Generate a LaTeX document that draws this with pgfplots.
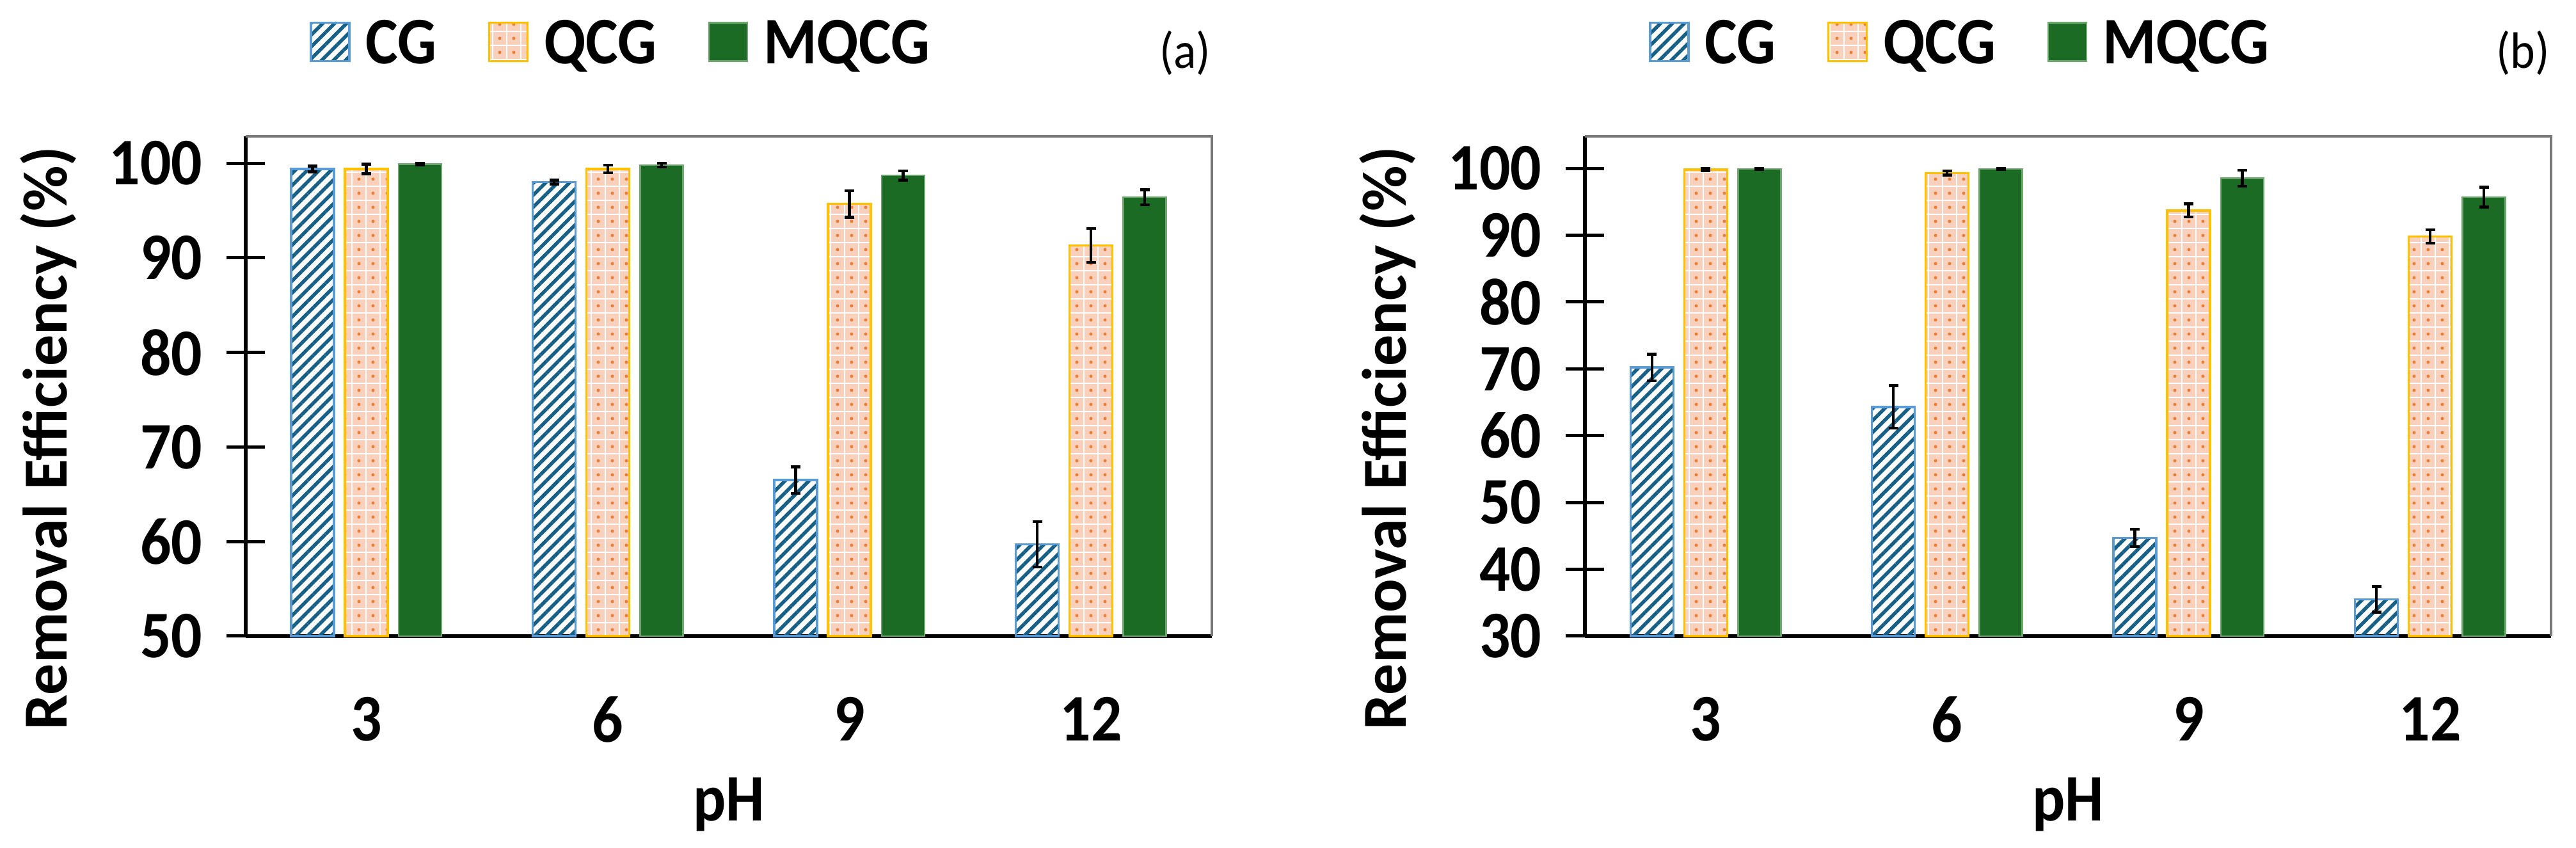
\documentclass[border=0pt]{standalone}
\usepackage{fontspec}
\setmainfont{Carlito}[FakeStretch=0.92]
\newfontfamily\ylabfont{Carlito}
\usepackage{pgfplots}
\usepackage{pgfplotstable}
\pgfplotsset{compat=1.18}
\usetikzlibrary{patterns.meta}

\definecolor{cgline}{RGB}{22,96,136}
\definecolor{cgborder}{RGB}{91,155,213}
\definecolor{qcgfill}{RGB}{248,208,188}
\definecolor{qcgdot}{RGB}{237,125,49}
\definecolor{qcgborder}{RGB}{255,192,0}
\definecolor{mqcg}{RGB}{28,107,36}
\definecolor{mqcgborder}{RGB}{110,165,110}
\definecolor{framegray}{RGB}{120,120,120}

% panel (a)
\pgfplotstableread{
x y e
0 99.4 0.3
1 98.0 0.2
2 66.5 1.4
3 59.7 2.4
}\cgA
\pgfplotstableread{
x y e
0 99.4 0.5
1 99.4 0.4
2 95.7 1.4
3 91.3 1.8
}\qcgA
\pgfplotstableread{
x y e
0 99.9 0.1
1 99.8 0.2
2 98.7 0.5
3 96.4 0.8
}\mqcgA
% panel (b)
\pgfplotstableread{
x y e
0 70.2 2.0
1 64.3 3.2
2 44.7 1.3
3 35.5 1.9
}\cgB
\pgfplotstableread{
x y e
0 99.8 0.2
1 99.3 0.3
2 93.7 1.0
3 89.8 1.0
}\qcgB
\pgfplotstableread{
x y e
0 99.9 0.1
1 99.9 0.1
2 98.5 1.2
3 95.7 1.5
}\mqcgB

\pgfplotsset{
  panel/.style={
    scale only axis, width=151pt, height=78.1pt,
    xmin=-0.5, xmax=3.5,
    ybar=1.7pt, bar width=6.7pt,
    every axis plot post/.append style={
      legend image code/.code={\draw[##1] (0pt,0.4pt) rectangle (6pt,6.4pt);}},
    axis x line*=bottom, axis y line*=left,
    axis line style={-, black, line width=0.6pt},
    xtick={0,1,2,3}, xticklabels={3,6,9,12},
    x tick style={draw=none},
    y tick style={black, line width=0.5pt},
    tick align=center, major tick length=6pt,
    /pgf/number format/assume math mode=true,
    yticklabel style={anchor=east, inner sep=0pt, xshift=-3.6pt},
    xticklabel style={anchor=north, inner sep=0pt, yshift=-6.3pt},
    xlabel={pH},
    xlabel style={at={(rel axis cs:0.5,-0.370)}, anchor=base, inner sep=0pt},
    ylabel={Removal Efficiency (\%)},
    ylabel style={at={(rel axis cs:-0.1849,0.3963)}, anchor=base, inner sep=0pt,
      font=\ylabfont\fontsize{9.8}{11}\selectfont\bfseries},
    legend columns=3,
    legend style={draw=none, fill=none, inner sep=0pt, outer sep=0pt,
      at={(rel axis cs:0.0663,1.179)}, anchor=west,
      nodes={inner sep=0pt, anchor=base west},
      /tikz/every odd column/.append style={column sep=2.4pt},
      /tikz/every even column/.append style={column sep=8pt}},
    clip=false,
  },
  cgstyle/.style={draw=cgborder, line width=0.35pt,
    pattern={Lines[angle=45,distance=1.32pt,line width=0.55pt]}, pattern color=cgline},
  qcgstyle/.style={draw=qcgborder, line width=0.35pt, fill=qcgfill,
    postaction={pattern={Hatch[angle=0,distance=2.2pt,line width=0.2pt]}, pattern color=white},
    postaction={pattern={Dots[distance=2.2pt,radius=0.25pt,xshift=1.1pt,yshift=1.1pt]}, pattern color=qcgdot}},
  mqcgstyle/.style={draw=mqcgborder, line width=0.25pt, fill=mqcg},
  errb/.style={
    error bars/y dir=both, error bars/y explicit,
    error bars/error bar style={black, line width=0.45pt, solid},
    error bars/error mark options={black, rotate=90, mark size=0.75pt, line width=0.45pt}},
}

\begin{document}
\begin{tikzpicture}[font=\fontsize{10.4}{12}\selectfont\bfseries]
\useasboundingbox (0,0) rectangle (402.6pt,132.5pt);

\begin{axis}[panel, at={(38.4pt,33.1pt)}, anchor=south west,
  ymin=50, ymax=102.85, ytick={50,60,...,100}]
  \addplot[cgstyle, errb] table[x=x, y=y, y error=e] {\cgA};
  \addlegendentry{CG}
  \addplot[qcgstyle, errb] table[x=x, y=y, y error=e] {\qcgA};
  \addlegendentry{QCG}
  \addplot[mqcgstyle, errb] table[x=x, y=y, y error=e] {\mqcgA};
  \addlegendentry{MQCG}
  \draw[framegray, line width=0.35pt] (rel axis cs:0,1) -- (rel axis cs:1,1) -- (rel axis cs:1,0);
  \node[anchor=base east, inner sep=0pt, font=\fontsize{8}{9}\selectfont\mdseries] at (rel axis cs:1,1.1357) {(a)};
\end{axis}

\begin{axis}[panel, at={(247.7pt,33.1pt)}, anchor=south west,
  ymin=30, ymax=104.8, ytick={30,40,...,100}]
  \addplot[cgstyle, errb] table[x=x, y=y, y error=e] {\cgB};
  \addlegendentry{CG}
  \addplot[qcgstyle, errb] table[x=x, y=y, y error=e] {\qcgB};
  \addlegendentry{QCG}
  \addplot[mqcgstyle, errb] table[x=x, y=y, y error=e] {\mqcgB};
  \addlegendentry{MQCG}
  \draw[framegray, line width=0.35pt] (rel axis cs:0,1) -- (rel axis cs:1,1) -- (rel axis cs:1,0);
  \node[anchor=base east, inner sep=0pt, font=\fontsize{8}{9}\selectfont\mdseries] at (rel axis cs:1,1.1357) {(b)};
\end{axis}
\end{tikzpicture}
\end{document}
